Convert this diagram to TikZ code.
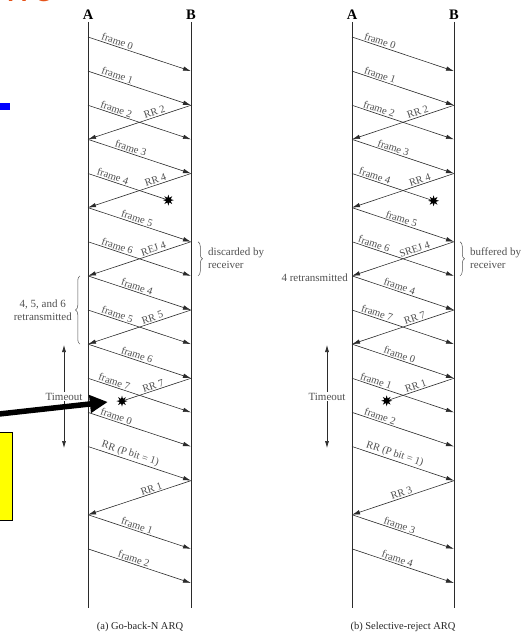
\documentclass[tikz,border=0pt]{standalone}
\usepackage{fontspec}
\setmainfont{Liberation Serif}
\newfontfamily\slidefont{Carlito}
\usetikzlibrary{positioning, calc, arrows.meta, shapes.geometric, decorations.pathreplacing}
\definecolor{Ink}{HTML}{2B2B2B}
\definecolor{Label}{HTML}{505050}
\definecolor{SlideOrange}{HTML}{E5531A}
\definecolor{SlideBlue}{HTML}{0000FF}
\definecolor{SlideYellow}{HTML}{FFFF00}
\tikzset{
    station/.style={font=\bfseries\fontsize{14.5}{15}\selectfont, inner sep=2pt},
    timeline/.style={line width=0.8pt, color=Ink},
    msg/.style={-{Latex[length=8pt,width=4.5pt]}, line width=0.6pt, color=Ink},
    ack/.style={{Latex[length=8pt,width=4.5pt]}-, line width=0.6pt, color=Ink},
    lostmsg/.style={line width=0.6pt, color=Ink},
    lbl/.style={sloped, above, inner sep=1.2pt, font=\fontsize{10.5}{12}\selectfont, text=Label},
    note/.style={font=\fontsize{11}{13}\selectfont, text=Label, inner sep=1pt},
    lost/.style={star, star points=8, star point ratio=2.2, fill=black, inner sep=0pt, minimum size=11pt},
    brc/.style={decorate, decoration={brace, amplitude=4.5pt}, line width=0.5pt, color=Label},
    timer/.style={{Latex[length=7pt,width=4pt]}-{Latex[length=7pt,width=4pt]}, line width=0.6pt, color=Ink},
    pointer/.style={-{Triangle[length=18pt,width=17pt]}, line width=5.5pt, color=black},
}
\begin{document}
\begin{tikzpicture}[x=1pt, y=-1pt]
\clip (0,0) rectangle (530,635);
\useasboundingbox (0,0) rectangle (530,635);
% what is left of the slide around the figure
\node[anchor=base west, inner sep=0pt, text=SlideOrange, font=\slidefont\fontsize{40}{40}\selectfont] (ttl) at (6,1.5) {ive};
\node[fill=SlideBlue, inner sep=0pt, minimum width=10pt, minimum height=7pt, anchor=north west] (bullet) at (0,103) {};
\node[fill=SlideYellow, draw=black, line width=0.8pt, inner sep=0pt, minimum width=14pt, minimum height=88pt, anchor=north west] (callout) at (-2,432) {};

% stations and time slots
\node[station] (LA) at (88,15) {A};
\node[station] (LB) at (191,15) {B};
\node[station] (RA) at (352,15) {A};
\node[station] (RB) at (454,15) {B};
\foreach \k in {0,...,16} {
    \coordinate (La\k) at (88,{37+34.125*\k});
    \coordinate (Lb\k) at (191,{37+34.125*\k});
    \coordinate (Ra\k) at (352,{37+34.125*\k});
    \coordinate (Rb\k) at (454,{37+34.125*\k});
}
\coordinate (LAe) at (88,608);
\coordinate (LBe) at (191,608);
\coordinate (RAe) at (352,608);
\coordinate (RBe) at (454,608);
\foreach \s in {LA,LB,RA,RB} \draw[timeline] (\s) -- (\s e);

% lost frames
\node[lost] (Lx1) at ($(La4)!0.78!(Lb5)$) {};
\node[lost] (Lx2) at ($(La11)!0.33!(Lb10)$) {};
\node[lost] (Rx1) at ($(Ra4)!0.8!(Rb5)$) {};
\node[lost] (Rx2) at ($(Ra11)!0.34!(Rb10)$) {};

% (a) go-back-N
\draw[msg] (La0) -- node[lbl,pos=.27]{frame 0} (Lb1);
\draw[msg] (La1) -- node[lbl,pos=.27]{frame 1} (Lb2);
\draw[msg] (La2) -- node[lbl,pos=.26]{frame 2} (Lb3);
\draw[ack] (La3) -- node[lbl,pos=.66]{RR 2} (Lb2);
\draw[msg] (La3) -- node[lbl,pos=.40]{frame 3} (Lb4);
\draw[lostmsg] (La4) -- node[lbl,pos=.30]{frame 4} (Lx1);
\draw[ack] (La5) -- node[lbl,pos=.67]{RR 4} (Lb4);
\draw[msg] (La5) -- node[lbl,pos=.46]{frame 5} (Lb6);
\draw[msg] (La6) -- node[lbl,pos=.27]{frame 6} (Lb7);
\draw[ack] (La7) -- node[lbl,pos=.65]{REJ 4} (Lb6);
\draw[msg] (La7) -- node[lbl,pos=.46]{frame 4} (Lb8);
\draw[msg] (La8) -- node[lbl,pos=.27]{frame 5} (Lb9);
\draw[ack] (La9) -- node[lbl,pos=.64]{RR 5} (Lb8);
\draw[msg] (La9) -- node[lbl,pos=.46]{frame 6} (Lb10);
\draw[msg] (La10) -- node[lbl,pos=.24]{frame 7} (Lb11);
\draw[lostmsg] (Lx2) -- node[lbl,pos=.45]{RR 7} (Lb10);
\draw[msg] (La11) -- node[lbl,pos=.26]{frame 0} (Lb12);
\draw[msg] (La12) -- node[lbl,pos=.39]{RR (P bit = 1)} (Lb13);
\draw[ack] (La14) -- node[lbl,pos=.63]{RR 1} (Lb13);
\draw[msg] (La14) -- node[lbl,pos=.46]{frame 1} (Lb15);
\draw[msg] (La15) -- node[lbl,pos=.43]{frame 2} (Lb16);

% (b) selective-reject
\draw[msg] (Ra0) -- node[lbl,pos=.26]{frame 0} (Rb1);
\draw[msg] (Ra1) -- node[lbl,pos=.26]{frame 1} (Rb2);
\draw[msg] (Ra2) -- node[lbl,pos=.25]{frame 2} (Rb3);
\draw[ack] (Ra3) -- node[lbl,pos=.66]{RR 2} (Rb2);
\draw[msg] (Ra3) -- node[lbl,pos=.39]{frame 3} (Rb4);
\draw[lostmsg] (Ra4) -- node[lbl,pos=.27]{frame 4} (Rx1);
\draw[ack] (Ra5) -- node[lbl,pos=.68]{RR 4} (Rb4);
\draw[msg] (Ra5) -- node[lbl,pos=.47]{frame 5} (Rb6);
\draw[msg] (Ra6) -- node[lbl,pos=.20]{frame 6} (Rb7);
\draw[ack] (Ra7) -- node[lbl,pos=.63]{SREJ 4} (Rb6);
\draw[msg] (Ra7) -- node[lbl,pos=.45]{frame 4} (Rb8);
\draw[msg] (Ra8) -- node[lbl,pos=.23]{frame 7} (Rb9);
\draw[ack] (Ra9) -- node[lbl,pos=.63]{RR 7} (Rb8);
\draw[msg] (Ra9) -- node[lbl,pos=.45]{frame 0} (Rb10);
\draw[msg] (Ra10) -- node[lbl,pos=.22]{frame 1} (Rb11);
\draw[lostmsg] (Rx2) -- node[lbl,pos=.43]{RR 1} (Rb10);
\draw[msg] (Ra11) -- node[lbl,pos=.26]{frame 2} (Rb12);
\draw[msg] (Ra12) -- node[lbl,pos=.40]{RR (P bit = 1)} (Rb13);
\draw[ack] (Ra14) -- node[lbl,pos=.50]{RR 3} (Rb13);
\draw[msg] (Ra14) -- node[lbl,pos=.45]{frame 3} (Rb15);
\draw[msg] (Ra15) -- node[lbl,pos=.43]{frame 4} (Rb16);

% braces and notes
\draw[brc] ([xshift=7pt]Lb6) -- ([xshift=7pt]Lb7);
\node[note, align=left, anchor=west] (Ldisc) at (207,258) {discarded by\\receiver};
\draw[brc] ([xshift=-8pt]La9) -- ([xshift=-8pt]La7);
\node[note, align=center, anchor=east] (Lretx) at (73,310) {4, 5, and 6\\retransmitted};
\draw[brc] ([xshift=6pt]Rb6) -- ([xshift=6pt]Rb7);
\node[note, align=left, anchor=west] (Rbuf) at (469,258) {buffered by\\receiver};
\node[note, anchor=east] (Rretx) at (349,278) {4 retransmitted};

% timeouts
\coordinate (Lt1) at (64,345);
\coordinate (Lt2) at (64,448);
\draw[timer] (Lt1) -- node[note, fill=white]{Timeout} (Lt2);
\coordinate (Rt1) at (327,345);
\coordinate (Rt2) at (327,448);
\draw[timer] (Rt1) -- node[note, fill=white]{Timeout} (Rt2);

% captions
\node[note, text=black!85, font=\fontsize{10.5}{12}\selectfont] (Lcap) at (140,627) {(a) Go-back-N ARQ};
\node[note, text=black!85, font=\fontsize{10.5}{12}\selectfont] (Rcap) at (403,627) {(b) Selective-reject ARQ};

% slide pointer to the lost RR 7
\coordinate (ptr) at (-10,415);
\draw[pointer, shorten >=8pt] (ptr) -- (Lx2.west);
\end{tikzpicture}
\end{document}
